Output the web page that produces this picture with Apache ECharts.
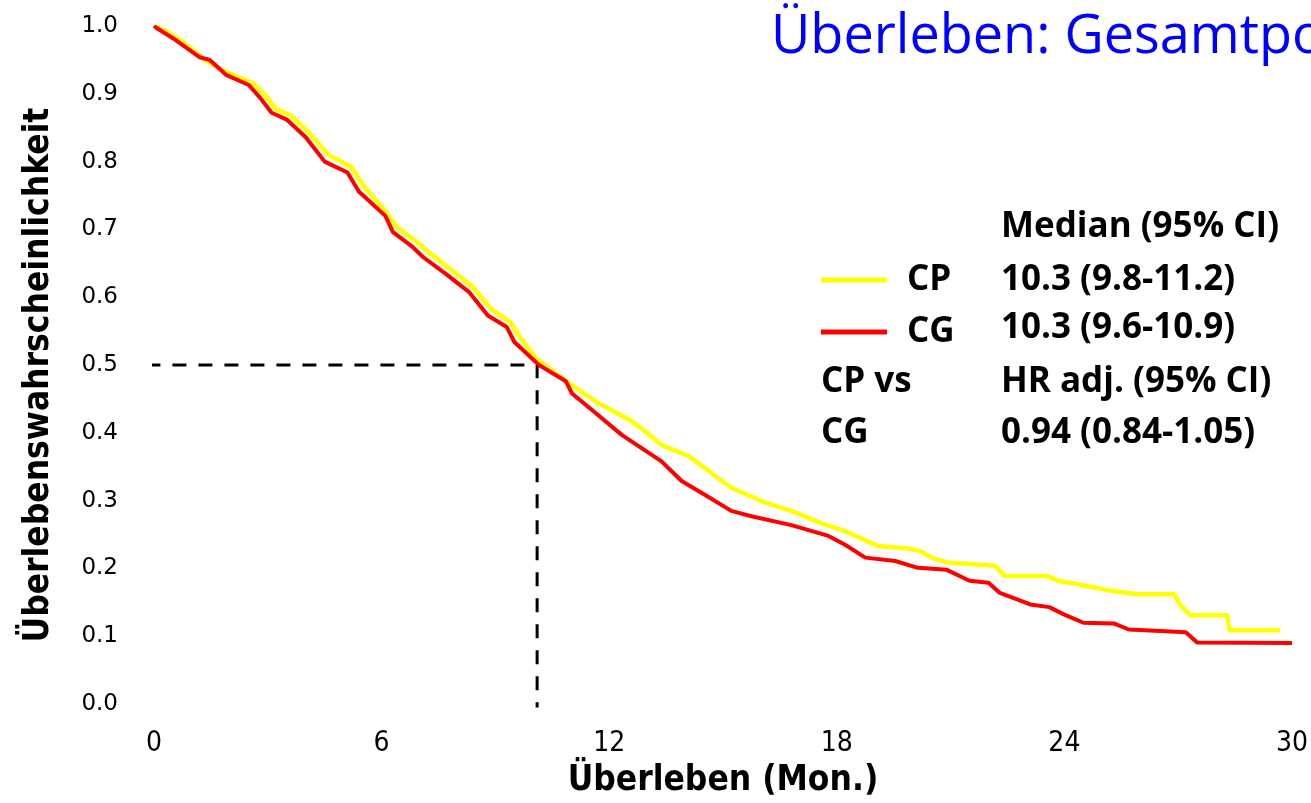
<!DOCTYPE html>
<html>
<head>
<meta charset="utf-8">
<title>Überleben: Gesamtpopulation</title>
<script src="https://cdn.jsdelivr.net/npm/echarts@6/dist/echarts.min.js"></script>
<style>
  html, body { margin: 0; padding: 0; background: #fff; }
  #chart { width: 1311px; height: 803px; }
</style>
</head>
<body>
<div id="chart"></div>
<script>
// Kaplan-Meier Kurven (Monate / Überlebenswahrscheinlichkeit)
const cpMonths = [0, 0.3, 0.8, 1.3, 1.7, 2.0, 2.6, 2.9, 3.2, 3.6, 4.1, 4.6, 5.2, 5.5, 6.1, 6.4, 6.9, 7.2, 7.8, 8.4, 8.9, 9.4, 9.6, 10.07,
  10.94, 11.65, 12.6, 12.96, 13.38, 14.09, 14.88, 15.22, 16.12, 16.8, 17.59, 18.22, 19.09, 19.8, 20.2, 20.5, 20.9, 22.17, 22.43,
  23.56, 23.82, 24.43, 25.22, 25.93, 26.9, 27.03, 27.32, 28.29, 28.35, 29.69];
const cpSurv = [1.0, 0.993, 0.975, 0.952, 0.938, 0.93, 0.916, 0.9, 0.878, 0.868, 0.842, 0.81, 0.792, 0.766, 0.727, 0.703, 0.683, 0.668, 0.642, 0.615, 0.582, 0.563, 0.545, 0.51,
  0.473, 0.446, 0.417, 0.402, 0.382, 0.366, 0.333, 0.319, 0.297, 0.285, 0.267, 0.255, 0.233, 0.23, 0.226, 0.216, 0.209, 0.204, 0.189,
  0.189, 0.182, 0.176, 0.167, 0.162, 0.162, 0.148, 0.131, 0.131, 0.109, 0.109];

const cgMonths = [0, 0.07, 0.5, 1.2, 1.47, 1.9, 2.5, 2.8, 3.1, 3.5, 4.0, 4.5, 5.1, 5.4, 6.1, 6.3, 6.8, 7.1, 7.7, 8.3, 8.8, 9.3, 9.5, 10.15,
  10.86, 11.02, 11.65, 12.33, 13.38, 13.91, 14.54, 15.22, 15.75, 16.8, 17.78, 18.22, 18.75, 19.54, 20.14, 20.9, 21.5, 22.0, 22.3,
  23.1, 23.6, 24.0, 24.5, 25.3, 25.7, 27.2, 27.5, 30.0];
const cgSurv = [1.0, 0.997, 0.982, 0.954, 0.95, 0.928, 0.913, 0.894, 0.872, 0.862, 0.836, 0.80, 0.784, 0.756, 0.72, 0.696, 0.675, 0.659, 0.634, 0.608, 0.573, 0.556, 0.534, 0.5,
  0.476, 0.458, 0.429, 0.397, 0.358, 0.329, 0.308, 0.285, 0.277, 0.264, 0.248, 0.235, 0.216, 0.211, 0.201, 0.198, 0.182, 0.179, 0.164,
  0.147, 0.143, 0.132, 0.12, 0.119, 0.11, 0.106, 0.091, 0.09];

// Median-Hilfslinie
const medianMonth = 10.1;
const medianLine = [[-0.2, 0.5], [medianMonth, 0.5], [medianMonth, -0.005]];

// Tabellentext rechts
const tableLeft = ['', '', '', 'CP vs', 'CG'];
const tableRight = ['Median (95% CI)', '10.3 (9.8-11.2)', '10.3 (9.6-10.9)', 'HR adj. (95% CI)', '0.94 (0.84-1.05)'];
const tableRowsY = [227, 280, 328, 382, 433];

const zip = (a, b) => a.map((v, i) => [v, b[i]]);

const chart = echarts.init(document.getElementById('chart'));

const textFont = { fontFamily: 'Open Sans', fontWeight: 'bold', fontSize: 35, fill: '#000', verticalAlign: 'middle', align: 'left' };
const graphics = [];
tableRowsY.forEach((y, i) => {
  if (tableLeft[i]) {
    graphics.push({ type: 'text', x: 821, y: y, style: Object.assign({ text: tableLeft[i] }, textFont) });
  }
  graphics.push({ type: 'text', x: 1001, y: y, style: Object.assign({ text: tableRight[i] }, textFont) });
});

chart.setOption({
  backgroundColor: '#fff',
  animation: false,
  title: {
    text: 'Überleben: Gesamtpopulation',
    left: 766,
    top: 6,
    textStyle: { fontFamily: 'Open Sans', fontWeight: 'normal', fontSize: 54, color: '#0000ff' }
  },
  legend: {
    data: ['CP', 'CG'],
    orient: 'vertical',
    left: 821,
    top: 260,
    padding: 0,
    itemWidth: 66,
    itemHeight: 5,
    itemGap: 12,
    icon: 'rect',
    textStyle: {
      fontFamily: 'Open Sans', fontWeight: 'bold', fontSize: 35, color: '#000',
      lineHeight: 36, padding: [4, 0, 0, 15]
    }
  },
  graphic: graphics,
  grid: { left: 154, right: 16, top: 26, bottom: 96, containLabel: false },
  xAxis: {
    type: 'value',
    min: 0,
    max: 30,
    interval: 6,
    name: 'Überleben (Mon.)',
    nameLocation: 'middle',
    nameGap: 52,
    nameTextStyle: { fontFamily: 'DejaVu Sans Condensed', fontWeight: 'bold', fontSize: 35, color: '#000' },
    axisLine: { show: false },
    axisTick: { show: false },
    splitLine: { show: false },
    axisLabel: { fontFamily: 'DejaVu Sans Condensed', fontSize: 28, color: '#000', margin: 26 }
  },
  yAxis: {
    type: 'value',
    min: 0,
    max: 1,
    interval: 0.1,
    name: 'Überlebenswahrscheinlichkeit',
    nameLocation: 'middle',
    nameGap: 98,
    nameTextStyle: {
      fontFamily: 'DejaVu Sans Condensed', fontWeight: 'bold', fontSize: 35, color: '#000',
      padding: [0, 20, 0, 0]
    },
    axisLine: { show: false },
    axisTick: { show: false },
    splitLine: { show: false },
    axisLabel: {
      fontFamily: 'DejaVu Sans', fontSize: 23, color: '#000', margin: 36,
      padding: [8, 0, 0, 0],
      formatter: v => v.toFixed(1)
    }
  },
  series: [
    {
      name: 'Median',
      type: 'line',
      data: medianLine,
      symbol: 'none',
      clip: false,
      silent: true,
      lineStyle: { color: '#000', width: 3, type: [14, 12] }
    },
    {
      name: 'CP',
      type: 'line',
      data: zip(cpMonths, cpSurv),
      symbol: 'none',
      color: '#ffff00',
      lineStyle: { color: '#ffff00', width: 4.5 }
    },
    {
      name: 'CG',
      type: 'line',
      data: zip(cgMonths, cgSurv),
      symbol: 'none',
      color: '#ff0000',
      lineStyle: { color: '#ff0000', width: 4 }
    }
  ]
});
</script>
</body>
</html>
